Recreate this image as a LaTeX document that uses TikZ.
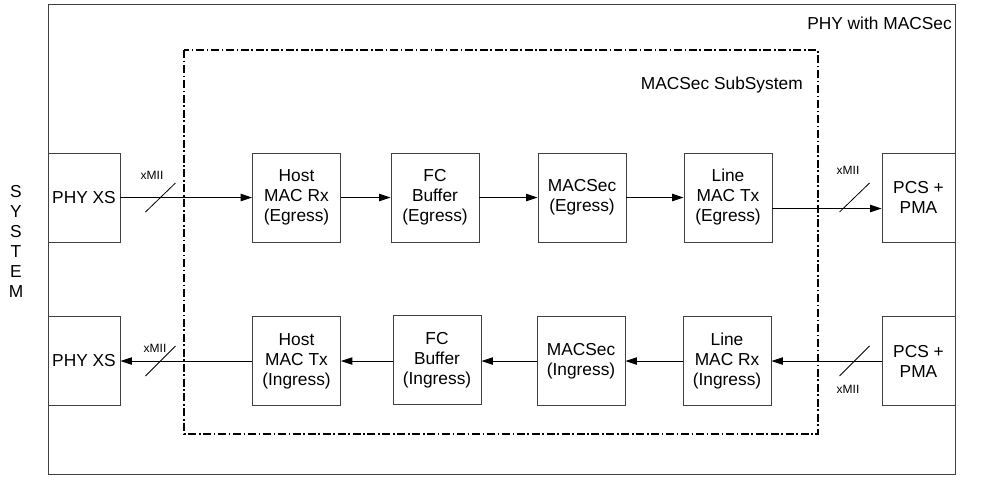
\documentclass[tikz,border=0pt]{standalone}
\usepackage{fontspec}
\setmainfont{Liberation Sans}
\usetikzlibrary{arrows.meta, calc}
\definecolor{boxgray}{RGB}{64,64,64}

\begin{document}
\begin{tikzpicture}[x=0.75pt, y=-0.75pt]
	\tikzset{block/.style={draw=boxgray, rectangle, line width=0.7pt, align=center, minimum width=66pt, minimum height=66.75pt, inner sep=1pt, font=\fontsize{13}{15}\selectfont}}
	\tikzset{edge/.style={-{Triangle[length=8.5pt,width=5.5pt]}, line width=0.6pt}}
	\tikzset{bus/.style={font=\fontsize{9}{10}\selectfont}}
	\useasboundingbox (0,0) rectangle (984,476);
	
	\draw[boxgray, line width=0.7pt] (48,4) rectangle (955,474);
	\draw[line width=0.8pt, dash pattern=on 6pt off 2pt on 1.2pt off 2pt] (184,50) rectangle (818,434);
	\node(phywm) at (952,23) [anchor=east, inner sep=0pt, font=\fontsize{13}{15}\selectfont] {PHY with MACSec};
	\node(subsys) at (803,85) [anchor=east, inner sep=0pt, font=\fontsize{13}{15}\selectfont] {MACSec SubSystem};
	\node(system) at (16,241) [align=center, font=\fontsize{13}{15}\selectfont] {S\\Y\\S\\T\\E\\M};
	
	% egress path
	\node(phyeg) at (84,197.5) [block, minimum width=54pt] {PHY XS};
	\node(hmrx) at (296.5,197.5) [block] {Host\\MAC Rx\\(Egress)};
	\node(fceg) at (435,197.5) [block] {FC\\Buffer\\(Egress)};
	\node(seceg) at (582,197.5) [block] {MACSec\\(Egress)};
	\node(lmtx) at (728,197.5) [block] {Line\\MAC Tx\\(Egress)};
	\node(pcseg) at (918.5,197.5) [block, minimum width=54.75pt] {PCS +\\PMA};
	\draw[edge](phyeg) -- (hmrx);
	\draw[edge](hmrx) -- (fceg);
	\draw[edge](fceg) -- (seceg);
	\draw[edge](seceg) -- (lmtx);
	\draw[edge]([yshift=-8.25pt]lmtx.east) -- ([yshift=-8.25pt]pcseg.west);
	
	% ingress path
	\node(phyin) at (84,361) [block, minimum width=54pt] {PHY XS};
	\node(hmtx) at (296.5,361) [block] {Host\\MAC Tx\\(Ingress)};
	\node(fcin) at (437,360) [block] {FC\\Buffer\\(Ingress)};
	\node(secin) at (581,361) [block] {MACSec\\(Ingress)};
	\node(lmrx) at (727,361) [block] {Line\\MAC Rx\\(Ingress)};
	\node(pcsin) at (918.5,361) [block, minimum width=54.75pt] {PCS +\\PMA};
	\draw[edge](pcsin) -- (lmrx);
	\draw[edge](lmrx) -- (secin);
	\draw[edge](secin) -- (fcin.east |- secin);
	\draw[edge](fcin.west |- hmtx) -- (hmtx);
	\draw[edge](hmtx) -- (phyin);
	
	% xMII buses
	\draw[line width=0.6pt] ($(phyeg.east)+(25,14.5)$) -- ($(phyeg.east)+(55,-14.5)$);
	\draw[line width=0.6pt] ($(pcseg.west)+(-42,14.5)$) -- ($(pcseg.west)+(-12,-14.5)$);
	\draw[line width=0.6pt] ($(phyin.east)+(25,15)$) -- ($(phyin.east)+(55,-15)$);
	\draw[line width=0.6pt] ($(pcsin.west)+(-42,15)$) -- ($(pcsin.west)+(-12,-15)$);
	\node(mii1) at (152,175) [bus] {xMII};
	\node(mii2) at (848,170) [bus] {xMII};
	\node(mii3) at (155,348) [bus] {xMII};
	\node(mii4) at (848,389) [bus] {xMII};
	
\end{tikzpicture}
\end{document}
